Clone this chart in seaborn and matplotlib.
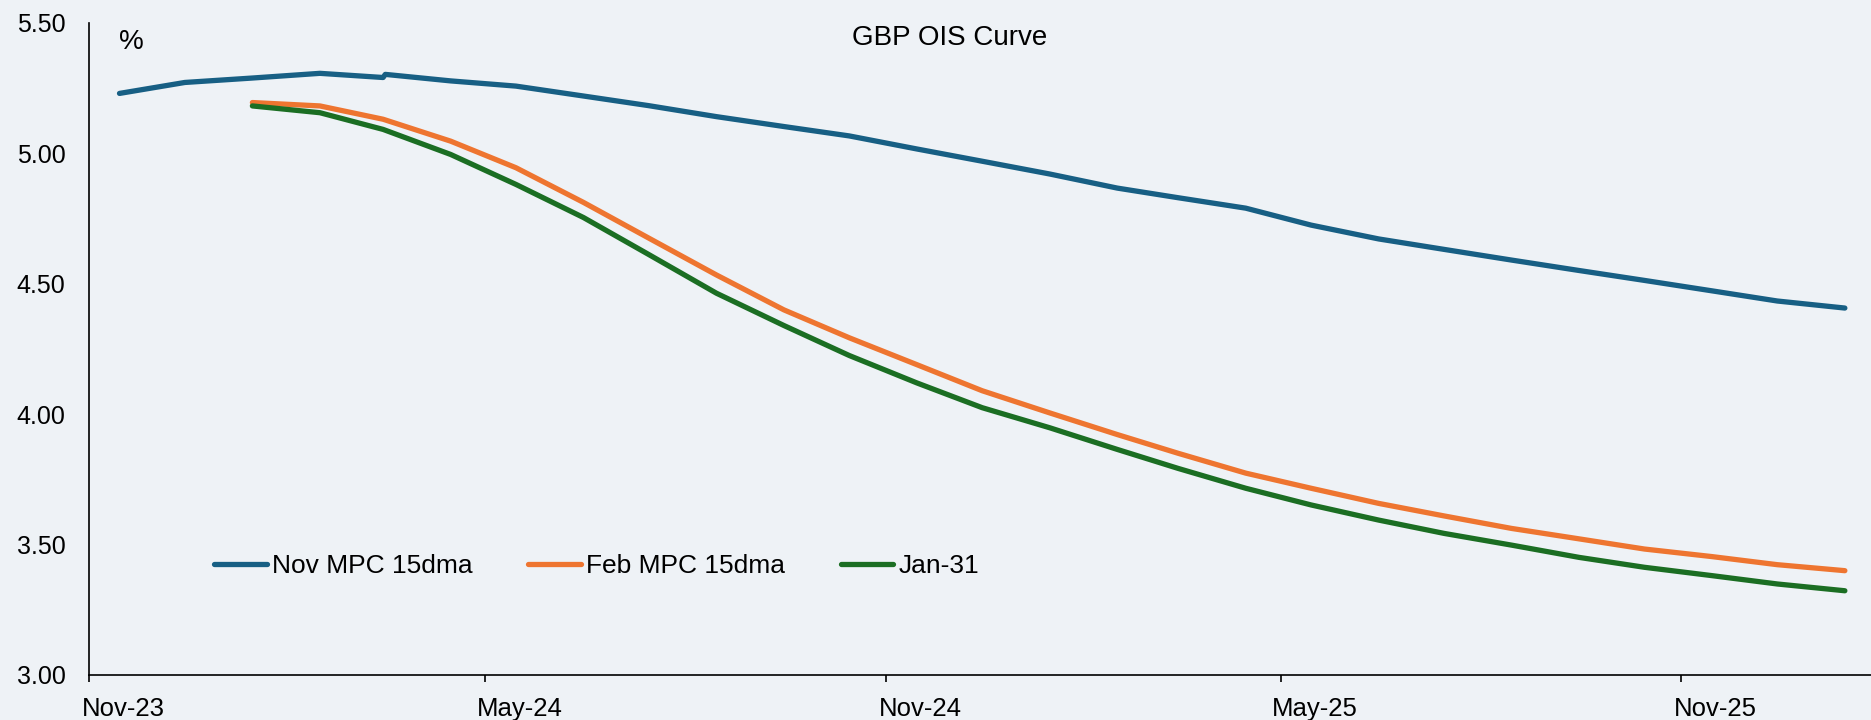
import matplotlib
matplotlib.use("Agg")
import matplotlib.pyplot as plt
import matplotlib.transforms as mtransforms
import pandas as pd
import seaborn as sns

# GBP OIS forward curves, monthly points (percent)
nov_dates = [
    "2023-11-15", "2023-12-15", "2024-01-15", "2024-02-15", "2024-03-15", "2024-03-16",
    "2024-04-15", "2024-05-15", "2024-06-15", "2024-07-15", "2024-08-15", "2024-09-15",
    "2024-10-15", "2024-11-15", "2024-12-15", "2025-01-15", "2025-02-15", "2025-03-15",
    "2025-04-15", "2025-05-15", "2025-06-15", "2025-07-15", "2025-08-15", "2025-09-15",
    "2025-10-15", "2025-11-15", "2025-12-15", "2026-01-15",
]
nov_mpc = [
    5.230, 5.272, 5.289, 5.307, 5.291, 5.303,
    5.278, 5.258, 5.220, 5.183, 5.141, 5.103,
    5.067, 5.017, 4.970, 4.921, 4.867, 4.830,
    4.790, 4.725, 4.672, 4.632, 4.591, 4.551,
    4.513, 4.473, 4.434, 4.407,
]

feb_dates = [
    "2024-01-15", "2024-02-15", "2024-03-15", "2024-04-15", "2024-05-15", "2024-06-15",
    "2024-07-15", "2024-08-15", "2024-09-15", "2024-10-15", "2024-11-15", "2024-12-15",
    "2025-01-15", "2025-02-15", "2025-03-15", "2025-04-15", "2025-05-15", "2025-06-15",
    "2025-07-15", "2025-08-15", "2025-09-15", "2025-10-15", "2025-11-15", "2025-12-15",
    "2026-01-15",
]
feb_mpc = [
    5.195, 5.182, 5.131, 5.047, 4.945, 4.812,
    4.675, 4.534, 4.400, 4.293, 4.190, 4.090,
    4.005, 3.922, 3.850, 3.774, 3.716, 3.658,
    3.610, 3.562, 3.522, 3.483, 3.454, 3.423,
    3.400,
]
jan31 = [
    5.182, 5.156, 5.092, 4.996, 4.881, 4.754,
    4.612, 4.464, 4.340, 4.225, 4.120, 4.025,
    3.948, 3.865, 3.792, 3.716, 3.652, 3.594,
    3.543, 3.498, 3.451, 3.413, 3.381, 3.349,
    3.323,
]

series_labels = ["Nov MPC 15dma", "Feb MPC 15dma", "Jan-31"]
series_colors = ["#175F84", "#EE7530", "#1B6E23"]

x_tick_dates = ["2023-11-01", "2024-05-01", "2024-11-01", "2025-05-01", "2025-11-01"]
x_tick_labels = ["Nov-23", "May-24", "Nov-24", "May-25", "Nov-25"]
y_ticks = [3.0, 3.5, 4.0, 4.5, 5.0, 5.5]

BG = "#EEF2F6"
W, H = 1871, 720
LW = 3.8

sns.set_theme(style="white")
plt.rcParams["font.family"] = ["Liberation Sans", "DejaVu Sans"]
plt.rcParams["text.color"] = "black"

fig = plt.figure(figsize=(W / 100, H / 100), dpi=100, facecolor=BG)
ax = fig.add_axes([89 / W, 45 / H, 1 - 89 / W, 652 / H])
ax.set_facecolor(BG)

curves = [
    (nov_dates, nov_mpc),
    (feb_dates, feb_mpc),
    (feb_dates, jan31),
]
for (dates, vals), lab, col in zip(curves, series_labels, series_colors):
    sns.lineplot(
        x=pd.to_datetime(dates), y=vals, ax=ax, color=col, linewidth=LW,
        label=lab, estimator=None, solid_capstyle="round", solid_joinstyle="round",
    )

ax.set_xlim(pd.Timestamp("2023-11-01"), pd.Timestamp("2026-01-27"))
ax.set_ylim(3.0, 5.5)
ax.set_xticks(pd.to_datetime(x_tick_dates))
ax.set_xticklabels(x_tick_labels)
ax.set_yticks(y_ticks)
ax.set_yticklabels([f"{v:.2f}" for v in y_ticks])
ax.set_xlabel("")
ax.set_ylabel("")

for side in ["top", "right"]:
    ax.spines[side].set_visible(False)
for side in ["left", "bottom"]:
    ax.spines[side].set_color("black")
    ax.spines[side].set_linewidth(1.2)

ax.tick_params(axis="y", length=0, pad=17, labelsize=18, colors="black")
ax.tick_params(axis="x", length=5, width=1.2, direction="out", pad=11,
               labelsize=18.5, colors="black", bottom=True)

# x labels sit slightly to the right of their tick marks
shift = mtransforms.ScaledTranslation(0.34, 0, fig.dpi_scale_trans)
for lbl in ax.get_xticklabels():
    lbl.set_transform(lbl.get_transform() + shift)

fig.text(950 / W, 1 - 38 / H, "GBP OIS Curve", ha="center", va="center",
         fontsize=20, color="black")
fig.text(119 / W, 1 - 42 / H, "%", ha="left", va="center", fontsize=20, color="black")

leg = ax.legend(
    loc="center left", bbox_to_anchor=(214 / W, 1 - 566 / H),
    bbox_transform=fig.transFigure, ncol=3, frameon=False, fontsize=19,
    handlelength=2.0, handletextpad=0.2, columnspacing=2.1,
    borderpad=0, borderaxespad=0, labelcolor="black",
)
for line in leg.get_lines():
    line.set_linewidth(LW)
    line.set_solid_capstyle("round")

fig.savefig("out.png", dpi=100, facecolor=BG)
